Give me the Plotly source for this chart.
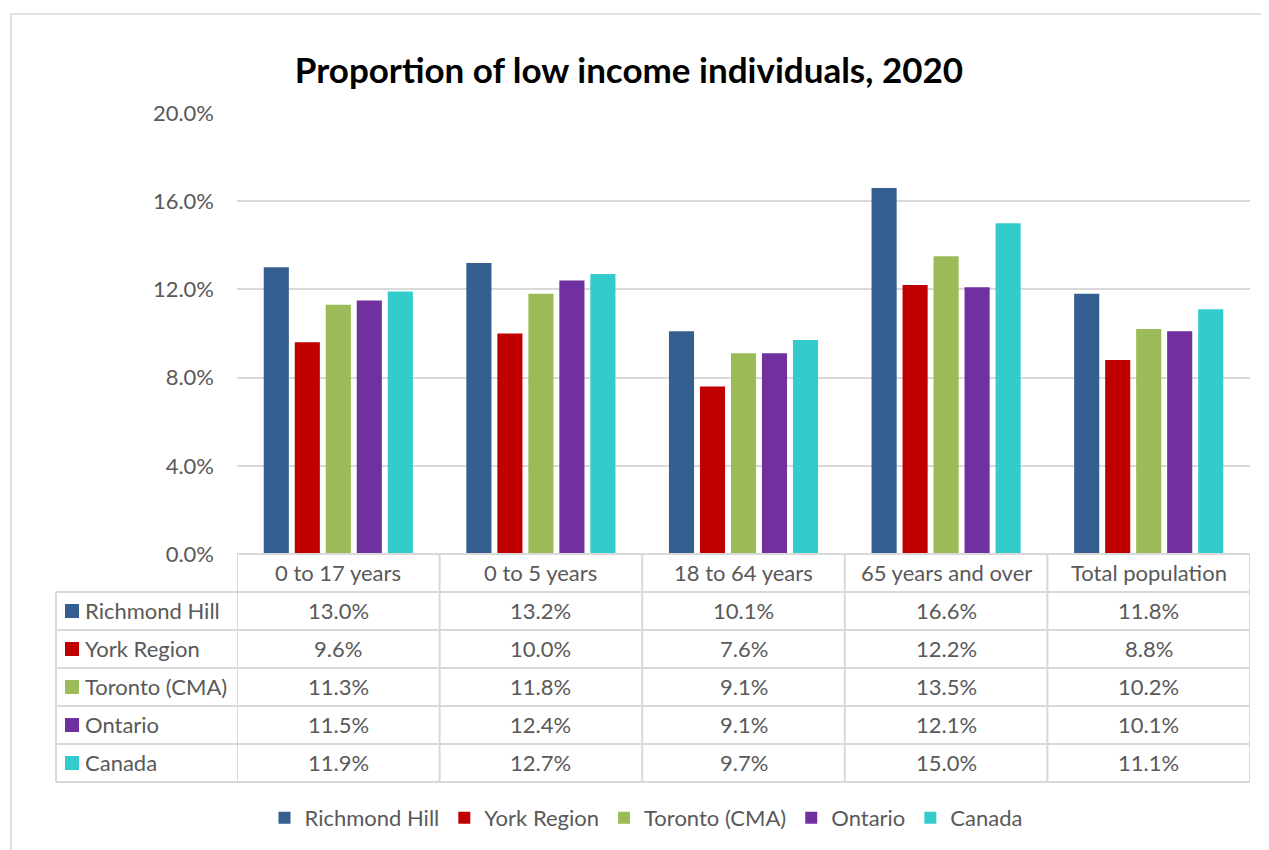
import plotly.graph_objects as go

categories = ["0 to 17 years", "0 to 5 years", "18 to 64 years", "65 years and over", "Total population"]
series_names = ["Richmond Hill", "York Region", "Toronto (CMA)", "Ontario", "Canada"]
richmond_hill = [0.130, 0.132, 0.101, 0.166, 0.118]
york_region = [0.096, 0.100, 0.076, 0.122, 0.088]
toronto_cma = [0.113, 0.118, 0.091, 0.135, 0.102]
ontario = [0.115, 0.124, 0.091, 0.121, 0.101]
canada = [0.119, 0.127, 0.097, 0.150, 0.111]
series_values = [richmond_hill, york_region, toronto_cma, ontario, canada]
colors = ["#365F91", "#C00000", "#9BBB59", "#7030A0", "#33CCCC"]
y_ticks = [0.0, 0.04, 0.08, 0.12, 0.16, 0.20]
title_text = "Proportion of low income individuals, 2020"

OFF = 8  # page body margin
W, H = 1269 - OFF, 850 - OFF
# plot area in screen pixels
SX0, SX1, SY0, SY1 = 237, 1250, 113, 554
L, R, T, B = SX0 - OFF, (W + OFF) - SX1, SY0 - OFF, (H + OFF) - SY1
PW = SX1 - SX0
PH = SY1 - SY0
FONT = "Lato"
TXT = "#595959"
GRID = "#D9D9D9"


def px(xs):
    return (xs - SX0) / PW


def py(ys):
    return (SY1 - ys) / PH


fig = go.Figure()
for name, vals, col in zip(series_names, series_values, colors):
    fig.add_trace(go.Bar(name=name, x=categories, y=vals, marker_color=col,
                         marker_line_width=0, hoverinfo="skip"))

shapes = []
# outer chart border
shapes.append(dict(type="rect", xref="paper", yref="paper", x0=px(11), x1=px(1300),
                   y0=py(900), y1=py(14), line=dict(color=GRID, width=1.5)))
# table grid
row_lines = [592, 630, 668, 706, 744, 782]
shapes.append(dict(type="line", xref="paper", yref="paper", x0=0, x1=1, y0=0, y1=0,
                   line=dict(color=GRID, width=2)))
for yl in row_lines:
    shapes.append(dict(type="line", xref="paper", yref="paper", x0=px(56), x1=1,
                       y0=py(yl), y1=py(yl), line=dict(color=GRID, width=2)))
for i in range(len(categories) + 1):
    shapes.append(dict(type="line", xref="x", yref="paper", x0=i - 0.5, x1=i - 0.5,
                       y0=0, y1=py(782), line=dict(color=GRID, width=2)))
shapes.append(dict(type="line", xref="paper", yref="paper", x0=px(56), x1=px(56),
                   y0=py(592), y1=py(782), line=dict(color=GRID, width=2)))

annotations = []
for i, c in enumerate(categories):
    annotations.append(dict(text=c, x=i, xref="x", y=py(572.5), yref="paper",
                            xanchor="center", yanchor="middle",
                            showarrow=False, font=dict(family=FONT, size=22, color=TXT)))
for r, (name, vals, col) in enumerate(zip(series_names, series_values, colors)):
    cy = 610 + 38 * r
    shapes.append(dict(type="rect", xref="paper", yref="paper", x0=px(65), x1=px(79),
                       y0=py(cy + 8), y1=py(cy - 6), fillcolor=col, line=dict(width=0)))
    annotations.append(dict(text=name, x=px(83), xref="paper", y=py(cy), yref="paper",
                            xanchor="left", yanchor="middle", showarrow=False,
                            font=dict(family=FONT, size=22, color=TXT)))
    for i, v in enumerate(vals):
        annotations.append(dict(text=f"{v*100:.1f}%", x=i, xref="x", y=py(cy), yref="paper",
                                xanchor="center", yanchor="middle",
                                showarrow=False, font=dict(family=FONT, size=22, color=TXT)))

fig.update_layout(
    width=W, height=H,
    margin=dict(l=L, r=R, t=T, b=B, autoexpand=False),
    paper_bgcolor="white", plot_bgcolor="white",
    barmode="group", bargap=0.235, bargroupgap=0.19,
    title=dict(text=title_text, xref="container", x=(629 - OFF) / W, xanchor="center",
               yref="container", y=1 - (71 - OFF) / H, yanchor="middle",
               font=dict(family=FONT, size=35, color="black", weight="bold")),
    xaxis=dict(showticklabels=False, showgrid=False, zeroline=False, showline=False,
               range=[-0.5, len(categories) - 0.5]),
    yaxis=dict(range=[0, 0.2], tickvals=y_ticks, tickformat=".1%", showgrid=True,
               gridcolor=GRID, gridwidth=1.5, zeroline=False, showline=False,
               ticklabelstandoff=22, tickfont=dict(family=FONT, size=22, color=TXT)),
    legend=dict(orientation="h", x=px(646), xanchor="center", y=py(818), yanchor="middle",
                font=dict(family=FONT, size=22, color=TXT), itemwidth=30,
                traceorder="normal"),
    shapes=shapes, annotations=annotations,
)

fig.write_html("out.html")
